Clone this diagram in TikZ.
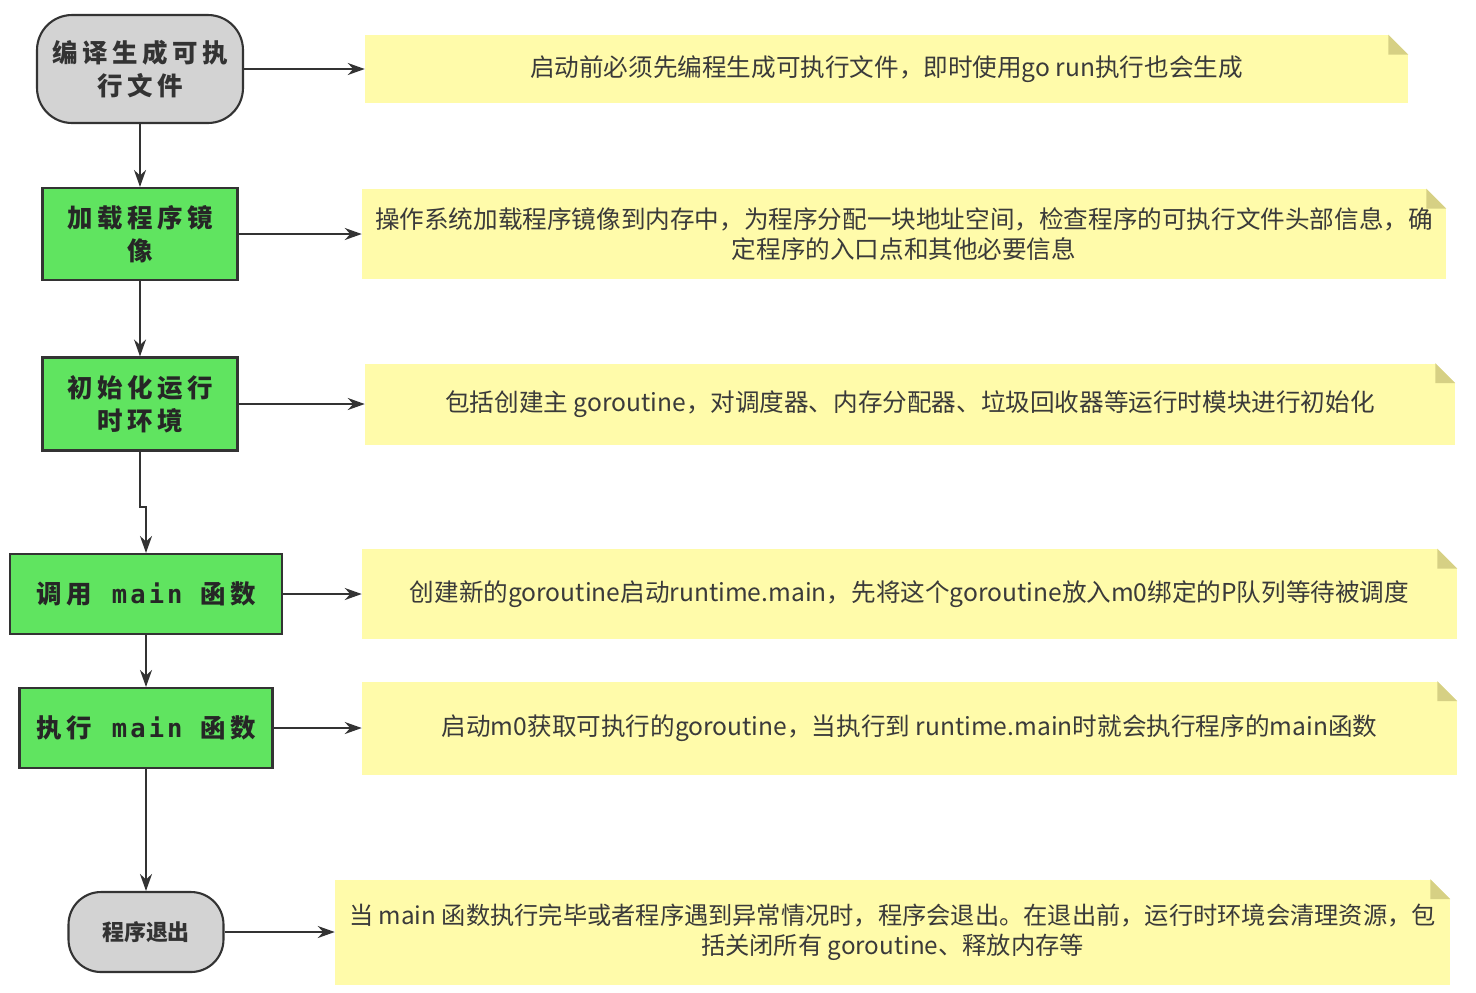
\documentclass[tikz,border=0pt]{standalone}
\usepackage{fontspec}
\usepackage{xcolor}
\usepackage{tikz}
\usetikzlibrary{positioning,calc,arrows.meta}

\setmainfont{Noto Sans CJK SC}
\newfontfamily\stepfont[LetterSpace=18]{Noto Sans CJK SC}
\newfontfamily\codefont[LetterSpace=12]{DejaVu Sans Mono}

\definecolor{linecol}{RGB}{51,51,51}
\definecolor{stepgreen}{RGB}{96,228,96}
\definecolor{endgray}{RGB}{211,211,211}
\definecolor{notecol}{RGB}{255,251,170}
\definecolor{foldcol}{RGB}{214,208,132}
\definecolor{textcol}{RGB}{58,58,58}

\begin{document}
\begin{tikzpicture}[
    x=0.02cm, y=-0.02cm,
    stepbox/.style={rectangle, draw=linecol, line width=1.2pt, fill=stepgreen, align=center, text=black!85, font=\fontsize{14.5}{19}\stepfont\bfseries},
    endbox/.style={rectangle, rounded corners=0.7cm, draw=linecol, line width=1.2pt, fill=endgray, align=center, text=black!80, font=\fontsize{14.5}{19}\stepfont\bfseries},
    note/.style={rectangle, fill=notecol, align=center, inner sep=0pt, text=textcol, font=\fontsize{14}{17}\selectfont},
    arrow/.style={->, >={Stealth[length=3.4mm, width=2.4mm]}, line width=1.2pt, draw=linecol}
]
\useasboundingbox (0,0) rectangle (1476,992);

% Steps (left column)
\node[endbox, minimum width=4.12cm, minimum height=2.16cm] (build) at (140,69) {编译生成可执\\行文件};
\node[stepbox, minimum width=3.9cm, minimum height=1.84cm] (load) at (140,234) {加载程序镜\\像};
\node[stepbox, minimum width=3.9cm, minimum height=1.86cm] (rtinit) at (140,404) {初始化运行\\时环境};
\node[stepbox, minimum width=5.44cm, minimum height=1.6cm] (callmain) at (146,594) {调用\hspace{0.4cm}{\codefont main}\hspace{0.35cm}函数};
\node[stepbox, minimum width=5.06cm, minimum height=1.6cm] (runmain) at (146,728) {执行\hspace{0.4cm}{\codefont main}\hspace{0.35cm}函数};
\node[endbox, rounded corners=0.65cm, minimum width=3.1cm, minimum height=1.6cm, font=\fontsize{12.5}{15}\selectfont\bfseries] (quit) at (146,932) {程序退出};

% Notes (right column)
\node[note, minimum width=20.86cm, minimum height=1.36cm] (n1) at (886.5,69) {启动前必须先编程生成可执行文件，即时使用go run执行也会生成};
\node[note, minimum width=21.68cm, minimum height=1.8cm] (n2) at (904,234) {操作系统加载程序镜像到内存中，为程序分配一块地址空间，检查程序的可执行文件头部信息，确\\定程序的入口点和其他必要信息};
\node[note, minimum width=21.8cm, minimum height=1.62cm] (n3) at (910,404) {包括创建主 goroutine，对调度器、内存分配器、垃圾回收器等运行时模块进行初始化};
\node[note, minimum width=21.9cm, minimum height=1.8cm] (n4) at (909.5,594) {创建新的goroutine启动runtime.main，先将这个goroutine放入m0绑定的P队列等待被调度};
\node[note, minimum width=21.9cm, minimum height=1.86cm] (n5) at (909.5,728) {启动m0获取可执行的goroutine，当执行到 runtime.main时就会执行程序的main函数};
\node[note, minimum width=22.3cm, minimum height=2.1cm, font=\fontsize{13.8}{17}\selectfont] (n6) at (892.5,932) {当 main 函数执行完毕或者程序遇到异常情况时，程序会退出。在退出前，运行时环境会清理资源，包\\括关闭所有 goroutine、释放内存等};

% folded corners
\foreach \n in {n1,n2,n3,n4,n5,n6} {
  \fill[white] ($(\n.north east)+(-0.4cm,0)$) -- (\n.north east) -- ($(\n.north east)+(0,-0.4cm)$) -- cycle;
  \fill[foldcol] ($(\n.north east)+(-0.4cm,0)$) -- ($(\n.north east)+(-0.4cm,-0.4cm)$) -- ($(\n.north east)+(0,-0.4cm)$) -- cycle;
}

% Flow
\draw[arrow] (build) -- (load);
\draw[arrow] (load) -- (rtinit);
\draw[arrow] (rtinit.south) -- ++(0,55) -| (callmain.north);
\draw[arrow] (callmain) -- (runmain);
\draw[arrow] (runmain) -- (quit);

% Steps to notes
\foreach \s/\n in {build/n1, load/n2, rtinit/n3, callmain/n4, runmain/n5, quit/n6}
  \draw[arrow] (\s.east) -- (\s.east -| \n.west);

\end{tikzpicture}
\end{document}
